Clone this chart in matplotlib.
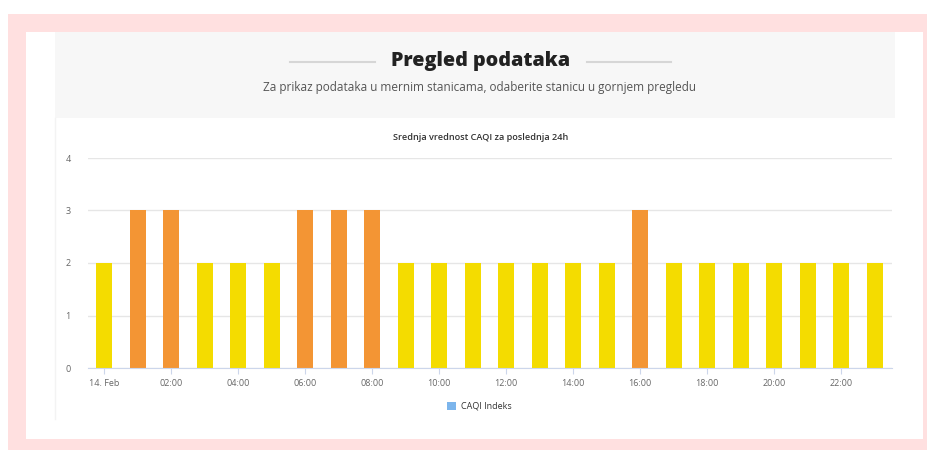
import matplotlib
matplotlib.use("Agg")
import matplotlib.pyplot as plt
from matplotlib.patches import Rectangle
from matplotlib.lines import Line2D

plt.rcParams["font.family"] = ["Open Sans", "DejaVu Sans"]

# Dati
hours = list(range(24))
caqi = [2, 3, 3, 2, 2, 2, 3, 3, 3, 2, 2, 2, 2, 2, 2, 2, 3, 2, 2, 2, 2, 2, 2, 2]
tick_hours = list(range(0, 24, 2))
tick_labels = ["14. Feb", "02:00", "04:00", "06:00", "08:00", "10:00",
               "12:00", "14:00", "16:00", "18:00", "20:00", "22:00"]
y_ticks = [0, 1, 2, 3, 4]

W, H = 927, 450
YELLOW = "#f4dc00"
ORANGE = "#f39534"


def fx(x):
    return x / W


def fy(y):
    return 1 - y / H


def rect(fig, x0, y0, x1, y1, color, z=0):
    fig.add_artist(Rectangle((fx(x0), fy(y1)), (x1 - x0) / W, (y1 - y0) / H,
                             transform=fig.transFigure, facecolor=color,
                             edgecolor="none", zorder=z))


fig = plt.figure(figsize=(W / 100, H / 100), dpi=100)
fig.patch.set_facecolor("white")

# Sfondi: bordo rosa, pannello bianco, header grigio
rect(fig, 8, 14, 927, 450, "#ffe0e0", z=-5)
rect(fig, 26, 32, 923, 439, "white", z=-4)
rect(fig, 55, 32, 895, 118, "#f7f7f7", z=-3)
fig.add_artist(Line2D([fx(55), fx(55)], [fy(118), fy(419)],
                      transform=fig.transFigure, color="#f3f3f3", lw=1))

# Header
fig.text(fx(481), fy(61), "Pregled podataka", ha="center", va="center",
         fontsize=14.2, fontweight="heavy", color="#222222")
for x0, x1 in [(290, 375), (587, 671)]:
    fig.add_artist(Line2D([fx(x0), fx(x1)], [fy(62), fy(62)],
                          transform=fig.transFigure, color="#d6d6d6", lw=1.5))
fig.text(fx(480), fy(87),
         "Za prikaz podataka u mernim stanicama, odaberite stanicu u gornjem pregledu",
         ha="center", va="center", fontsize=8.5, color="#555555")

# Grafico
ax = fig.add_axes([fx(87.5), fy(368), (891.5 - 87.5) / W, (368 - 158) / H])
ax.set_facecolor("white")
colors = [ORANGE if v >= 3 else YELLOW for v in caqi]
ax.bar(hours, caqi, width=0.466, color=colors, zorder=3)

ax.set_xlim(-0.5, 23.5)
ax.set_ylim(0, 4)
ax.set_yticks(y_ticks)
ax.set_yticklabels([str(v) for v in y_ticks])
ax.set_xticks(tick_hours)
ax.set_xticklabels(tick_labels)
ax.grid(axis="y", color="#e6e6e6", lw=1, zorder=0)
for side in ["top", "right", "left"]:
    ax.spines[side].set_visible(False)
ax.spines["bottom"].set_color("#ccd6eb")
ax.spines["bottom"].set_zorder(4)
ax.tick_params(axis="y", length=0, pad=12, labelsize=6.5, labelcolor="#666666")
ax.tick_params(axis="x", length=4, width=0.8, color="#ccd6eb", pad=4,
               labelsize=6.5, labelcolor="#666666")

fig.text(fx(481), fy(137), "Srednja vrednost CAQI za poslednja 24h",
         ha="center", va="center", fontsize=6.6, fontweight="semibold",
         color="#333333")

# Legenda
rect(fig, 447, 402, 456, 410, "#7cb5ec", z=2)
fig.text(fx(461), fy(406), "CAQI Indeks", ha="left", va="center",
         fontsize=6.5, color="#333333")

fig.savefig("out.png", dpi=100)
